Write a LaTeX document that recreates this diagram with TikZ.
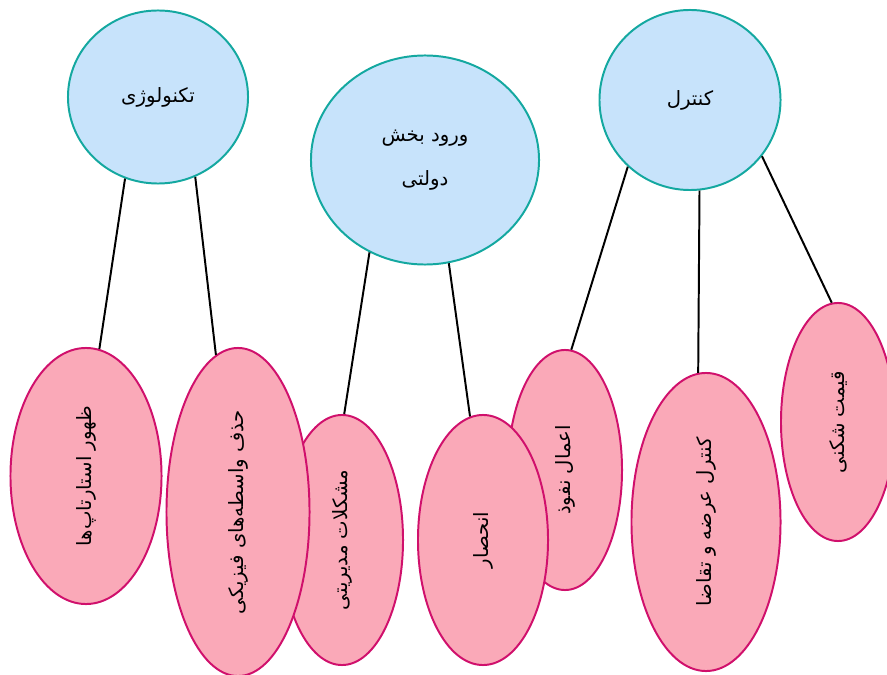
\documentclass[tikz,border=0pt]{standalone}
\usepackage{fontspec}
\usepackage{graphicx}
\usepackage{xcolor}
\usepackage{tikz}
\usetikzlibrary{shapes.geometric}
\TeXXeTstate=1
\newfontfamily\arabicfont[Script=Arabic]{DejaVu Sans}
\definecolor{topfill}{RGB}{199,227,251}
\definecolor{topline}{RGB}{20,168,160}
\definecolor{leaffill}{RGB}{250,169,184}
\definecolor{leafline}{RGB}{208,16,108}

\newcommand{\fa}[1]{\arabicfont\beginR #1\endR}
\newcommand{\upfa}[1]{\rotatebox{90}{\fa{#1}}}

\begin{document}
\begin{tikzpicture}[
    x=0.025cm, y=-0.025cm,
    topic/.style={ellipse, draw=topline, fill=topfill, line width=1.4pt, inner sep=0pt, align=center, font=\fontsize{14}{31}\selectfont},
    leaf/.style={ellipse, draw=leafline, fill=leaffill, line width=1.4pt, inner sep=0pt, font=\fontsize{14}{16}\selectfont},
    link/.style={line width=1.4pt, black}
]
\useasboundingbox (0,0) rectangle (887,675);

% top level
\node[topic, minimum width=4.5cm, minimum height=4.325cm] (tech) at (158,97) {\fa{تکنولوژی}};
\node[topic, minimum width=5.7cm, minimum height=5.225cm] (state) at (425,160) {\fa{ورود بخش}\\\fa{دولتی}};
\node[topic, minimum width=4.525cm, minimum height=4.5cm] (control) at (690,100) {\fa{کنترل}};

% leaves
\node[leaf, minimum width=3.775cm, minimum height=6.4cm] (startup) at (86,476) {\upfa{ظهور استارتاپ‌ها}};
\node[leaf, minimum width=3.05cm, minimum height=6.25cm] (manage) at (342,540) {\upfa{مشکلات مدیریتی}};
\node[leaf, minimum width=3.575cm, minimum height=8.2cm] (broker) at (238,512) {\upfa{حذف واسطه‌های فیزیکی}};
\node[leaf, minimum width=2.85cm, minimum height=6cm] (lobby) at (565,470) {\upfa{اعمال نفوذ}};
\node[leaf, minimum width=3.25cm, minimum height=6.25cm] (monopoly) at (483,540) {\upfa{انحصار}};
\node[leaf, minimum width=3.725cm, minimum height=7.45cm] (supply) at (706,522) {\upfa{کنترل عرضه و تقاضا}};
\node[leaf, minimum width=2.85cm, minimum height=5.95cm] (price) at (838,422) {\upfa{قیمت شکنی}};

\draw[link] (tech.248) -- (startup.84);
\draw[link] (tech.295) -- (broker.98);
\draw[link] (state.239) -- (manage.89);
\draw[link] (state.283) -- (monopoly.96);
\draw[link] (control.227) -- (lobby.87);
\draw[link] (control.276) -- (supply.93);
\draw[link] (control.322) -- (price.93);

\end{tikzpicture}
\end{document}
